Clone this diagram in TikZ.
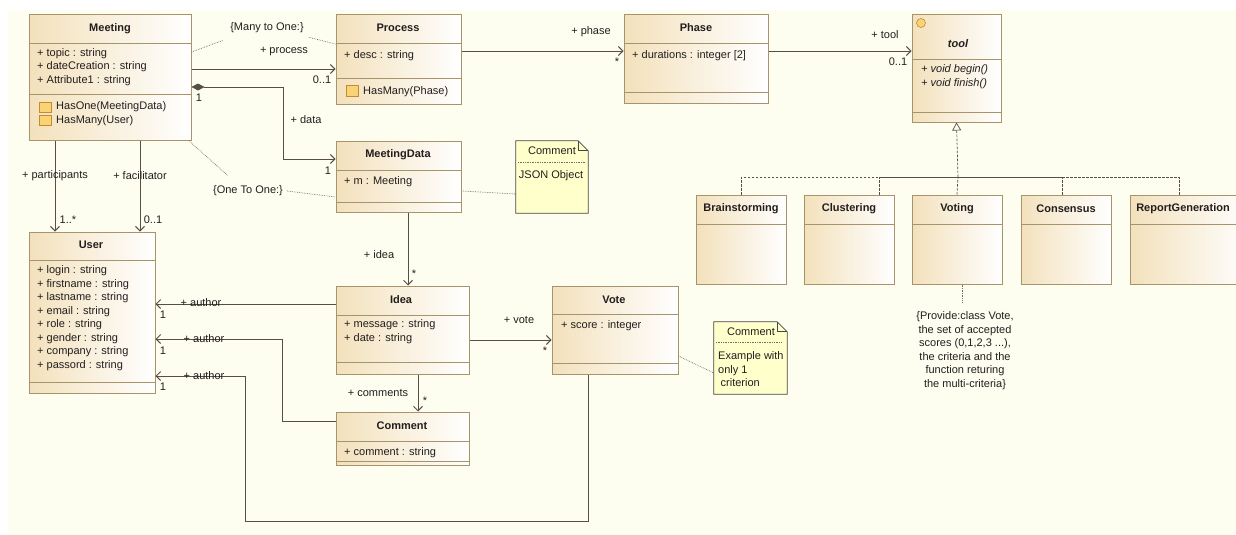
\documentclass[tikz,border=0pt]{standalone}
\usepackage{fontspec}
\setmainfont{Liberation Sans}
\usepackage{xcolor}
\usepackage{tikz}
\usetikzlibrary{arrows.meta,fit}

\definecolor{umlback}{RGB}{254,254,240}
\definecolor{umltan}{RGB}{243,225,188}
\definecolor{umlborder}{RGB}{168,148,108}
\definecolor{umlline}{RGB}{88,78,66}
\definecolor{umltext}{RGB}{35,30,30}
\definecolor{umldots}{RGB}{110,110,110}
\definecolor{notefill}{RGB}{255,255,204}
\definecolor{notedraw}{RGB}{70,70,70}
\definecolor{iconfill}{RGB}{248,212,118}
\definecolor{iconborder}{RGB}{196,140,44}

\newcommand{\umlfont}{\fontsize{11}{13.5}\selectfont}

\tikzset{
  classbox/.style={draw=umlborder, line width=1pt, left color=umltan, right color=white, inner sep=0pt},
  classdiv/.style={draw=umlborder, line width=0.8pt},
  classtitle/.style={font=\umlfont\bfseries, inner sep=0pt, text=umltext},
  attrs/.style={font=\umlfont, align=left, anchor=north west, inner sep=0pt, text=umltext, execute at begin node=\strut},
  lbl/.style={font=\umlfont, inner sep=0pt, text=umltext},
  assoc/.style={draw=umlline, line width=0.9pt, ->},
  constraint/.style={draw=umldots, densely dotted, line width=0.7pt},
  realize/.style={draw=umlline, dash pattern=on 2.5pt off 1.5pt, line width=0.7pt},
  notebox/.style={draw=notedraw, fill=notefill, line width=0.8pt},
  opicon/.style={draw=iconborder, fill=iconfill, line width=0.6pt}
}

\begin{document}
\begin{tikzpicture}[x=1pt, y=-1pt, >={Straight Barb[length=4.5pt,width=9pt]}]
  \useasboundingbox (0,0) rectangle (1236,535);
  \fill[white] (0,0) rectangle (1236,535);
  \fill[umlback] (8,10) rectangle (1236,535); %canvas

  % Meeting
  \node[classbox, fit={(29,15) (191,140)}] (meeting) {};
  \draw[classdiv] (meeting.west |- 0,43) -- (meeting.east |- 0,43);
  \draw[classdiv] (meeting.west |- 0,94) -- (meeting.east |- 0,94);
  \node[classtitle] (meetingT) at (110,29) {Meeting};
  \node[attrs] (meetingA) at (37,48) {+ topic : string\\+ dateCreation : string\\+ Attribute1 : string};
  \draw[opicon] (39,102) rectangle (51,112);
  \draw[opicon] (39,115) rectangle (51,125);
  \node[attrs] (meetingO) at (56,101.5) {HasOne(MeetingData)\\HasMany(User)};

  % Process
  \node[classbox, fit={(336,15) (461,104)}] (process) {};
  \draw[classdiv] (process.west |- 0,43) -- (process.east |- 0,43);
  \draw[classdiv] (process.west |- 0,78) -- (process.east |- 0,78);
  \node[classtitle] (processT) at (398,28) {Process};
  \node[attrs] (processA) at (344,48.5) {+ desc : string};
  \draw[opicon] (346,85) rectangle (358,96);
  \node[attrs] (processO) at (363,84.5) {HasMany(Phase)};

  % Phase
  \node[classbox, fit={(624,15) (768,103)}] (phase) {};
  \draw[classdiv] (phase.west |- 0,43) -- (phase.east |- 0,43);
  \draw[classdiv] (phase.west |- 0,92) -- (phase.east |- 0,92);
  \node[classtitle] (phaseT) at (696,28) {Phase};
  \node[attrs] (phaseA) at (632,48.5) {+ durations : integer [2]};

  % tool
  \node[classbox, fit={(912,15) (1001,122)}] (tool) {};
  \draw[classdiv] (tool.west |- 0,59) -- (tool.east |- 0,59);
  \draw[classdiv] (tool.west |- 0,112) -- (tool.east |- 0,112);
  \draw[opicon] (921,23) circle[radius=4.5pt];
  \node[classtitle, font=\umlfont\bfseries\itshape] (toolT) at (958,44) {tool};
  \node[attrs, font=\umlfont\itshape] (toolO) at (921,64.5) {+ void begin()\\+ void finish()};

  % MeetingData
  \node[classbox, fit={(336,141) (461,212)}] (meetingdata) {};
  \draw[classdiv] (meetingdata.west |- 0,170) -- (meetingdata.east |- 0,170);
  \draw[classdiv] (meetingdata.west |- 0,202) -- (meetingdata.east |- 0,202);
  \node[classtitle] (meetingdataT) at (398,155) {MeetingData};
  \node[attrs] (meetingdataA) at (344,175) {+ m : Meeting};

  % User
  \node[classbox, fit={(29,232) (155,393)}] (user) {};
  \draw[classdiv] (user.west |- 0,260) -- (user.east |- 0,260);
  \draw[classdiv] (user.west |- 0,382) -- (user.east |- 0,382);
  \node[classtitle] (userT) at (91,245) {User};
  \node[attrs] (userA) at (37,265.5) {+ login : string\\+ firstname : string\\+ lastname : string\\+ email : string\\+ role : string\\+ gender : string\\+ company : string\\+ passord : string};

  % Idea
  \node[classbox, fit={(336,286) (469,374)}] (idea) {};
  \draw[classdiv] (idea.west |- 0,315) -- (idea.east |- 0,315);
  \draw[classdiv] (idea.west |- 0,362) -- (idea.east |- 0,362);
  \node[classtitle] (ideaT) at (401,300) {Idea};
  \node[attrs] (ideaA) at (344,319.5) {+ message : string\\+ date : string};

  % Vote
  \node[classbox, fit={(552,286) (678,374)}] (vote) {};
  \draw[classdiv] (vote.west |- 0,314) -- (vote.east |- 0,314);
  \draw[classdiv] (vote.west |- 0,363) -- (vote.east |- 0,363);
  \node[classtitle] (voteT) at (614,300) {Vote};
  \node[attrs] (voteA) at (561,319) {+ score : integer};

  % Comment
  \node[classbox, fit={(336,412) (469,465)}] (comment) {};
  \draw[classdiv] (comment.west |- 0,441) -- (comment.east |- 0,441);
  \draw[classdiv] (comment.west |- 0,461) -- (comment.east |- 0,461);
  \node[classtitle] (commentT) at (402,426) {Comment};
  \node[attrs] (commentA) at (344,446) {+ comment : string};

  % tools
  \node[classbox, fit={(696,195) (786,284)}] (brain) {};
  \draw[classdiv] (brain.west |- 0,224) -- (brain.east |- 0,224);
  \node[classtitle] (brainT) at (741,209) {Brainstorming};
  \node[classbox, fit={(804,195) (894,284)}] (clust) {};
  \draw[classdiv] (clust.west |- 0,224) -- (clust.east |- 0,224);
  \node[classtitle] (clustT) at (849,209) {Clustering};
  \node[classbox, fit={(912,195) (1002,284)}] (voting) {};
  \draw[classdiv] (voting.west |- 0,224) -- (voting.east |- 0,224);
  \node[classtitle] (votingT) at (957,209) {Voting};
  \node[classbox, fit={(1021,195) (1111,284)}] (cons) {};
  \draw[classdiv] (cons.west |- 0,224) -- (cons.east |- 0,224);
  \node[classtitle] (consT) at (1066,209) {Consensus};
  \node[classbox, fit={(1130,195) (1250,284)}] (report) {};
  \draw[classdiv] (report.west |- 0,224) -- (report.east |- 0,224);
  \node[classtitle] (reportT) at (1183,209) {ReportGeneration};

  % notes
  \node[fit={(516,141) (588,213)}, inner sep=0pt] (note1) {};
  \draw[notebox] (note1.north west) -- ([xshift=-10pt]note1.north east) -- ([yshift=-10pt]note1.north east) -- (note1.south east) -- (note1.south west) -- cycle;
  \draw[notebox, fill=none] ([xshift=-10pt]note1.north east) |- ([yshift=-10pt]note1.north east);
  \node[lbl] (note1T) at (552,151) {Comment};
  \draw[constraint] (518,162) -- (585,162);
  \node[lbl] (note1A) at (551,176) {JSON Object};

  \node[fit={(714,322) (787,394)}, inner sep=0pt] (note2) {};
  \draw[notebox] (note2.north west) -- ([xshift=-10pt]note2.north east) -- ([yshift=-10pt]note2.north east) -- (note2.south east) -- (note2.south west) -- cycle;
  \draw[notebox, fill=none] ([xshift=-10pt]note2.north east) |- ([yshift=-10pt]note2.north east);
  \node[lbl] (note2T) at (751,332) {Comment};
  \draw[constraint] (716,342) -- (782,342);
  \node[attrs] (note2A) at (718,351.5) {Example with\\only 1\\\hspace{2.5pt}criterion};

  % associations
  \draw[assoc] (meeting.east |- 0,69) -- (process.west |- 0,69);
  \node[lbl] (processR) at (284,51) {+ process};
  \node[lbl] (processM) at (322,80) {0..1};

  \draw[assoc, {Diamond[length=13pt,width=7pt]}->] (meeting.east |- 0,87) -| (283,159) -- (meetingdata.west |- 0,159);
  \node[lbl] (dataM1) at (199,98) {1};
  \node[lbl] (dataR) at (306,120) {+ data};
  \node[lbl] (dataM2) at (328,171) {1};

  \draw[assoc] (meeting.south -| 55,0) -- (user.north -| 55,0);
  \node[lbl] (partR) at (55,176) {+ participants};
  \node[lbl] (partM) at (68,220) {1..*};
  \draw[assoc] (meeting.south -| 140,0) -- (user.north -| 140,0);
  \node[lbl] (facR) at (140,176) {+ facilitator};
  \node[lbl] (facM) at (153,220) {0..1};

  \draw[assoc] (process.east |- 0,51) -- (phase.west |- 0,51);
  \node[lbl] (phaseR) at (591,32) {+ phase};
  \node[lbl] (phaseM) at (617,62) {*};
  \draw[assoc] (phase.east |- 0,51) -- (tool.west |- 0,51);
  \node[lbl] (toolR) at (885,35) {+ tool};
  \node[lbl] (toolM) at (898,62) {0..1};

  \draw[assoc] (meetingdata.south -| 408,0) -- (idea.north -| 408,0);
  \node[lbl] (ideaR) at (379,255) {+ idea};
  \node[lbl] (ideaM) at (414,274) {*};

  \draw[assoc] (idea.west |- 0,304) -- (user.east |- 0,304);
  \node[lbl] (author1) at (201,303) {+ author};
  \node[lbl] (author1M) at (163,315) {1};
  \draw[assoc] (comment.west |- 0,421) -| (282,339) -- (user.east |- 0,339);
  \node[lbl] (author2) at (204,339) {+ author};
  \node[lbl] (author2M) at (163,351) {1};
  \draw[assoc] (vote.south -| 588,0) |- (245,521) |- (user.east |- 0,376);
  \node[lbl] (author3) at (204,376) {+ author};
  \node[lbl] (author3M) at (163,387) {1};

  \draw[assoc] (idea.east |- 0,340) -- (vote.west |- 0,340);
  \node[lbl] (voteR) at (519,320) {+ vote};
  \node[lbl] (voteM) at (545,351) {*};
  \draw[assoc] (idea.south -| 418,0) -- (comment.north -| 418,0);
  \node[lbl] (commentR) at (378,393) {+ comments};
  \node[lbl] (commentM) at (425,401) {*};

  % realizations
  \coordinate (gen) at (958,177);
  \draw[realize] (brain.north) |- (gen);
  \draw[realize] (clust.north -| 879,0) |- (gen);
  \draw[realize] (voting.north) -- (gen);
  \draw[realize] (cons.north -| 1062,0) |- (gen);
  \draw[realize] (report.north -| 1179,0) |- (gen);
  \draw[realize, -{Triangle[open, length=8pt, width=9pt, fill=umlback]}] (gen) -- (tool.south);

  % constraints
  \node[lbl] (manyone) at (267,28) {\{Many to One:\}};
  \draw[constraint] (meeting.east |- 0,52) -- ([xshift=-7pt,yshift=-7pt]manyone.south west);
  \draw[constraint] ([xshift=5pt,yshift=-4pt]manyone.south east) -- (process.west |- 0,44);
  \node[lbl] (oneone) at (248,191) {\{One To One:\}};
  \draw[constraint] ([xshift=-3pt]meeting.south east) -- ([xshift=15pt,yshift=10pt]oneone.north west);
  \draw[constraint] ([xshift=4pt]oneone.east) -- (meetingdata.west |- 0,197);
  \draw[constraint] (meetingdata.east |- 0,191) -- (note1.west |- 0,194);
  \draw[constraint] (vote.east |- 0,356) -- (note2.west |- 0,373);
  \node[attrs, align=center, anchor=north] (votingC) at (965,311.5) {\{Provide:class Vote,\\the set of accepted\\scores (0,1,2,3 ...),\\the criteria and the\\function returing\\the multi-criteria\}};
  \coordinate (votingCtop) at (962,302);
  \draw[constraint] (voting.south -| 962,0) -- (votingCtop);
\end{tikzpicture}
\end{document}
